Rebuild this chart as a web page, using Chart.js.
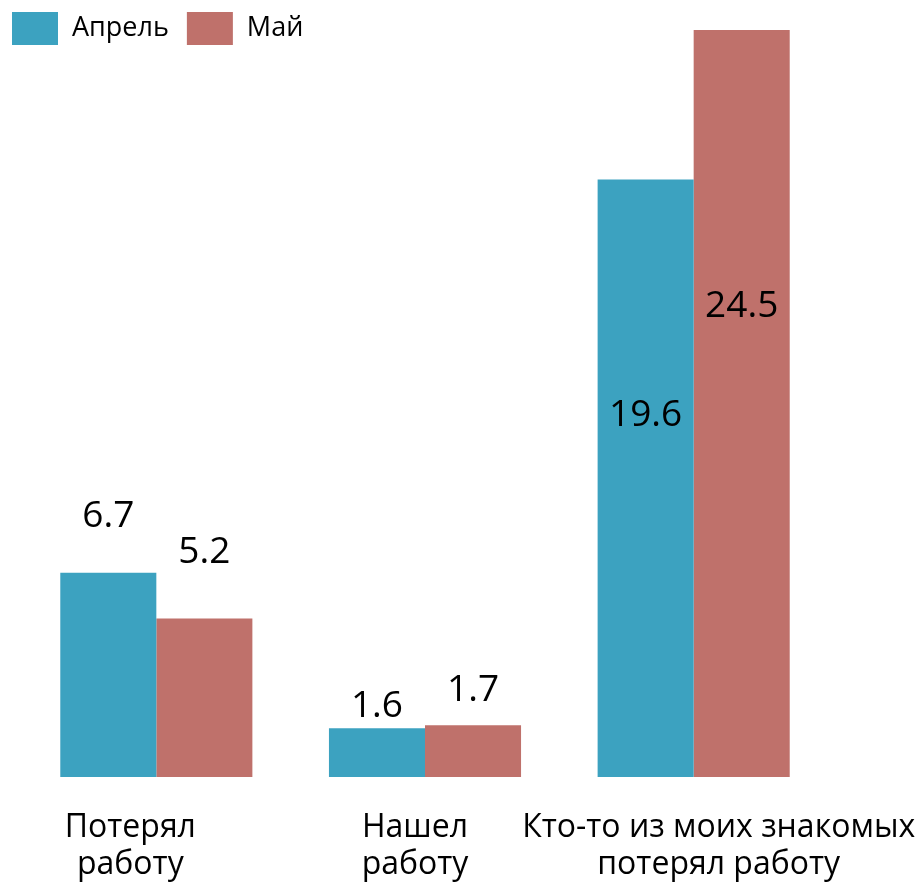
<!DOCTYPE html>
<html>
<head>
<meta charset="utf-8">
<script src="https://cdn.jsdelivr.net/npm/chart.js@4/dist/chart.umd.min.js"></script>
<style>
  html, body { margin: 0; padding: 0; background: #fff; }
  #wrap { width: 924px; height: 887px; position: relative; }
</style>
</head>
<body>
<div id="wrap"><canvas id="chart"></canvas></div>
<script>
var categories = [
  ['Потерял', 'работу'],
  ['Нашел', 'работу'],
  ['Кто-то из моих знакомых', 'потерял работу']
];
var seriesNames = ['Апрель', 'Май'];
var aprilValues = [6.7, 1.6, 19.6];
var mayValues = [5.2, 1.7, 24.5];

// custom legend drawn at the top left, outside the layout
var topLegend = {
  id: 'topLegend',
  afterDraw: function (chart, args, opts) {
    var ctx = chart.ctx;
    var x = opts.x;
    ctx.save();
    ctx.font = opts.fontSize + 'px "Open Sans"';
    ctx.textBaseline = 'middle';
    chart.data.datasets.forEach(function (ds) {
      ctx.fillStyle = ds.backgroundColor;
      ctx.fillRect(x, opts.y, opts.boxW, opts.boxH);
      ctx.fillStyle = '#000';
      var tx = x + opts.boxW + opts.gap;
      ctx.fillText(ds.label, tx, opts.y + opts.boxH / 2);
      x = tx + ctx.measureText(ds.label).width + opts.itemGap;
    });
    ctx.restore();
  }
};

// value labels, offset from the bar top (negative = above)
var valueLabels = {
  id: 'valueLabels',
  afterDatasetsDraw: function (chart, args, opts) {
    var ctx = chart.ctx;
    ctx.save();
    ctx.font = opts.fontSize + 'px "Open Sans"';
    ctx.fillStyle = '#000';
    ctx.textAlign = 'center';
    ctx.textBaseline = 'middle';
    chart.data.datasets.forEach(function (ds, di) {
      chart.getDatasetMeta(di).data.forEach(function (bar, i) {
        ctx.fillText(ds.data[i].toFixed(1), bar.x, bar.y + opts.offsets[di][i]);
      });
    });
    ctx.restore();
  }
};

// category labels under the bars, placed from the x scale with a small shift each
var categoryLabels = {
  id: 'categoryLabels',
  afterDraw: function (chart, args, opts) {
    var ctx = chart.ctx;
    var xScale = chart.scales.x;
    var bottom = chart.chartArea.bottom;
    ctx.save();
    ctx.font = opts.fontSize + 'px "Open Sans"';
    ctx.fillStyle = '#000';
    ctx.textAlign = 'center';
    ctx.textBaseline = 'middle';
    chart.data.labels.forEach(function (lines, i) {
      var cx = xScale.getPixelForTick(i) + opts.shift[i];
      lines.forEach(function (line, j) {
        ctx.fillText(line, cx, bottom + opts.firstLine + j * opts.lineGap);
      });
    });
    ctx.restore();
  }
};

new Chart(document.getElementById('chart'), {
  type: 'bar',
  data: {
    labels: categories,
    datasets: [
      { label: seriesNames[0], data: aprilValues, backgroundColor: '#3ca2c0', borderWidth: 0 },
      { label: seriesNames[1], data: mayValues, backgroundColor: '#bf716b', borderWidth: 0 }
    ]
  },
  options: {
    responsive: true,
    maintainAspectRatio: false,
    animation: false,
    categoryPercentage: 0.715,
    barPercentage: 1.0,
    layout: { padding: { left: 22, right: 96, top: 30, bottom: 110 } },
    plugins: {
      legend: { display: false },
      tooltip: { enabled: false },
      topLegend: { x: 12, y: 12, boxW: 46, boxH: 33, gap: 14, itemGap: 18, fontSize: 27 },
      valueLabels: {
        fontSize: 37,
        offsets: [[-56, -22, 236], [-66, -35, 276]]
      },
      categoryLabels: { fontSize: 32, firstLine: 51, lineGap: 37, shift: [-26, -10, 25] }
    },
    scales: {
      y: { display: false, min: 0, max: 24.5 },
      x: { display: false }
    }
  },
  plugins: [topLegend, valueLabels, categoryLabels]
});
</script>
</body>
</html>
